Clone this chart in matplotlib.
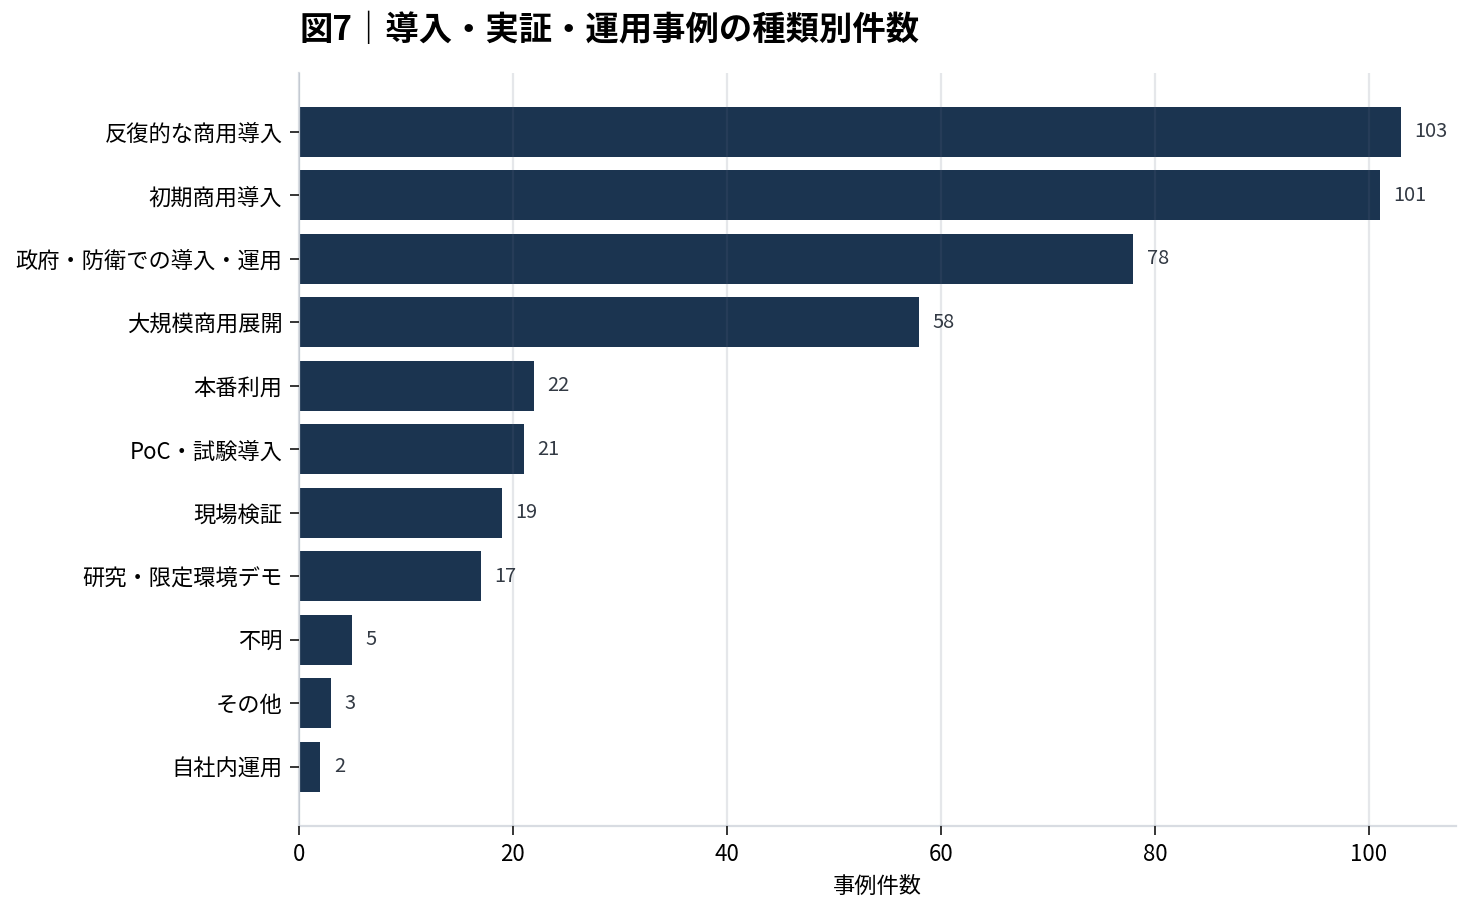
import matplotlib
matplotlib.use("Agg")
import matplotlib.pyplot as plt

plt.rcParams['font.family'] = ['Noto Sans CJK JP', 'DejaVu Sans']

categories = ["反復的な商用導入", "初期商用導入", "政府・防衛での導入・運用", "大規模商用展開",
              "本番利用", "PoC・試験導入", "現場検証", "研究・限定環境デモ", "不明", "その他", "自社内運用"]
values = [103, 101, 78, 58, 22, 21, 19, 17, 5, 3, 2]
title = "図7｜導入・実証・運用事例の種類別件数"
xlabel = "事例件数"

fig = plt.figure(figsize=(9.2, 5.7), dpi=160)
ax = fig.add_axes([299/1472, 1-826/912, (1456-299)/1472, (826-72.6)/912])

y = list(range(len(categories)))
ax.barh(y, values, height=0.79, color='#1b3450', zorder=1)
ax.set_yticks(y)
ax.set_yticklabels(categories, fontsize=10)
ax.invert_yaxis()
ax.set_xlim(0, max(values) * 1.05)

for yi, v in zip(y, values):
    ax.annotate(str(v), xy=(v, yi), xytext=(6, 0), textcoords='offset points',
                va='center', ha='left', fontsize=9, color='#333a44')

ax.set_axisbelow(False)
ax.grid(axis='x', color='#606c82', alpha=0.16, linewidth=1)
for s in ['top', 'right']:
    ax.spines[s].set_visible(False)
for s in ['left', 'bottom']:
    ax.spines[s].set_color('#d8dce2')
    ax.spines[s].set_linewidth(1)
ax.tick_params(axis='x', labelsize=10, length=4, color='#222222')
ax.tick_params(axis='y', length=4, color='#222222')
ax.set_xlabel(xlabel, fontsize=10, labelpad=4)

fig.text(299/1472, 1-30/912, title, fontsize=15, fontweight='bold', ha='left', va='center')

fig.savefig("out.png", dpi=160)
